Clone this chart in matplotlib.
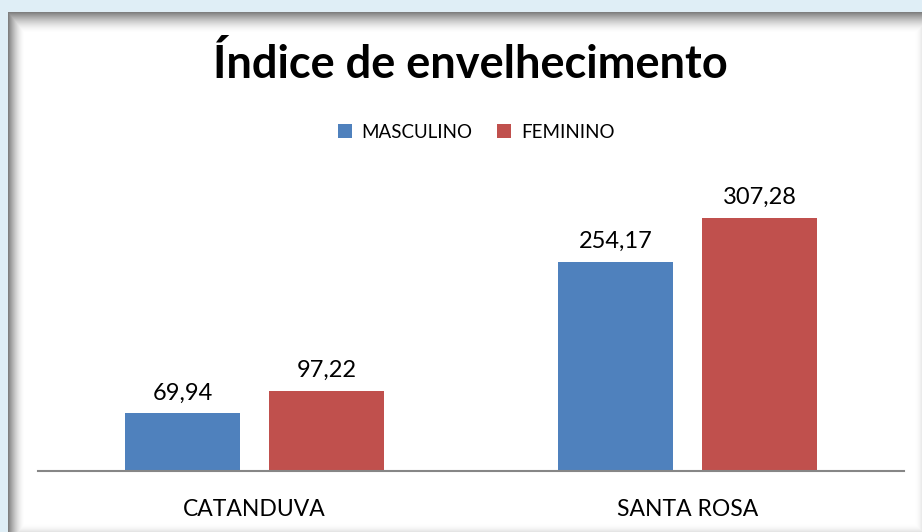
import numpy as np
import matplotlib
matplotlib.use("Agg")
from matplotlib import pyplot as plt

# data
cidades = ["CATANDUVA", "SANTA ROSA"]
masculino = [69.94, 254.17]
feminino = [97.22, 307.28]
series_nomes = ["MASCULINO", "FEMININO"]
cores = ["#4f81bd", "#c0504d"]

W, H = 922, 532
fig = plt.figure(figsize=(W / 100, H / 100), dpi=100)
fig.patch.set_facecolor("#dfeef6")

# chart panel with shadowed border, built as an image
bg = fig.add_axes([0, 0, 1, 1], zorder=-1)
bg.axis("off")
px, py = np.meshgrid(np.arange(W), np.arange(H))
dl = np.clip(1 - (px - 8) / 16, 0, 1) ** 1.6
dt = np.clip(1 - (py - 12) / 20, 0, 1) ** 1.6
dr = np.clip(1 - (W - 1 - px) / 8, 0, 1) ** 2 * 0.2
dd = np.clip(1 - (H - 1 - py) / 8, 0, 1) ** 2 * 0.2
dark = np.maximum.reduce([dl, dt, dr, dd]) * 0.5
img = np.ones((H, W, 3)) * (1 - dark)[..., None]
img[(px < 8) | (py < 12)] = np.array([0xdf, 0xee, 0xf6]) / 255
bg.imshow(img, extent=(0, W, H, 0), interpolation="nearest", aspect="auto")
bg.set_xlim(0, W)
bg.set_ylim(H, 0)

# plot area: x 38..904, baseline at y=471, top ~183 for 350
x0, x1, yb, yt = 38, 904, 471, 183
ax = fig.add_axes([x0 / W, 1 - yb / H, (x1 - x0) / W, (yb - yt) / H])
ax.set_facecolor("none")
ax.set_xlim(-0.5, 1.5)
ax.set_ylim(0, 350)

x = np.arange(len(cidades))
w = 115 / 433
off = 72 / 433
fonte = "Lato"
for vals, nome, cor, d in [(masculino, series_nomes[0], cores[0], -off),
                           (feminino, series_nomes[1], cores[1], off)]:
    ax.bar(x + d, vals, width=w, color=cor, label=nome)
    for xi, v in zip(x + d, vals):
        ax.text(xi, v + 12, f"{v:.2f}".replace(".", ","), ha="center", va="bottom",
                fontsize=17, family=fonte)

for s in ["top", "right", "left"]:
    ax.spines[s].set_visible(False)
ax.spines["bottom"].set_color("#868686")
ax.spines["bottom"].set_linewidth(1.5)
ax.set_yticks([])
ax.set_xticks(x)
ax.set_xticklabels(cidades, fontsize=16.5, family=fonte)
ax.tick_params(axis="x", length=0, pad=20)

fig.text(470 / W, 1 - 64 / H, "Índice de envelhecimento", ha="center", va="center",
         fontsize=32.5, fontweight="bold", family=fonte)

fig.legend(loc="center", bbox_to_anchor=(476 / W, 1 - 132 / H), ncol=2, frameon=False,
           handlelength=0.75, handleheight=0.75, handletextpad=0.5,
           columnspacing=1.35, prop={"family": fonte, "size": 13.5})

fig.savefig("out.png", dpi=100)
